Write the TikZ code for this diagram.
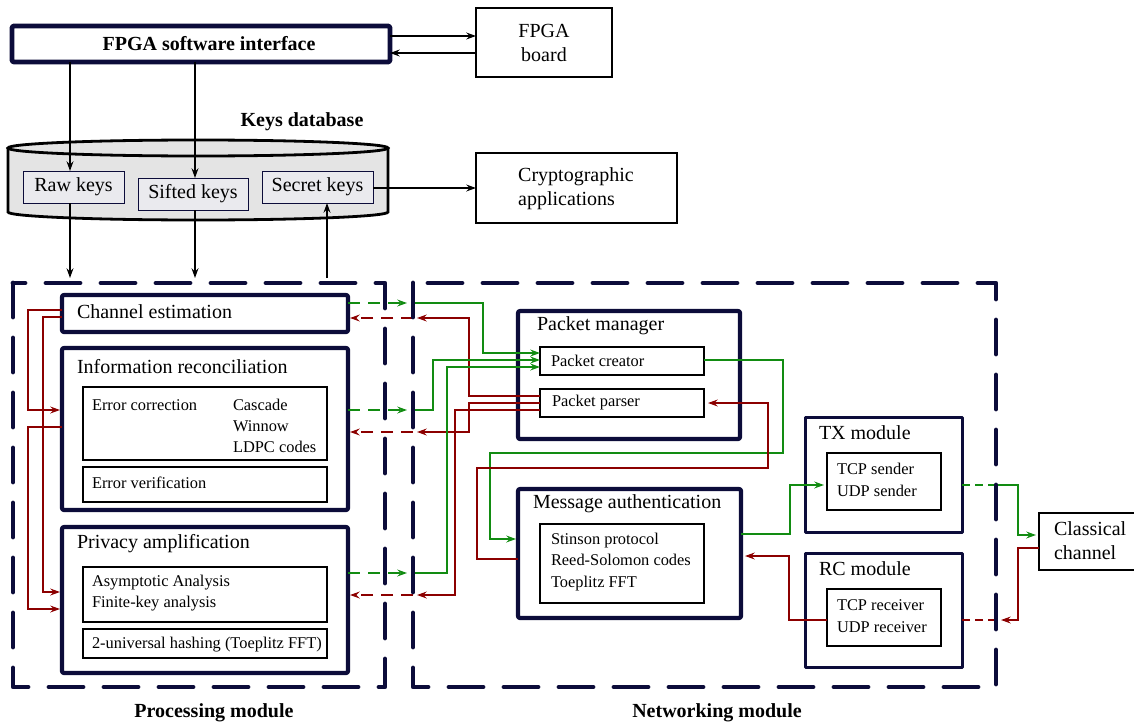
\documentclass[tikz,border=0pt]{standalone}
\usepackage{fontspec}
\setmainfont{Liberation Serif}
\usetikzlibrary{arrows.meta,calc}

\definecolor{navy}{RGB}{12,12,58}
\definecolor{wgreen}{RGB}{18,140,18}
\definecolor{wred}{RGB}{140,0,0}
\definecolor{dbgray}{RGB}{228,228,228}
\definecolor{keyfill}{RGB}{234,234,238}

\newcommand{\fsmain}{\fontsize{10}{12}\selectfont}
\newcommand{\fssmall}{\fontsize{8.2}{10.9}\selectfont}

% rectangle node given by its corners (in pixel units): style, name, x1, y1, x2, y2, text
\newcommand{\rectnode}[7]{%
  \node[#1, minimum width={((#5)-(#3))*0.5pt}, minimum height={((#6)-(#4))*0.5pt}]
    (#2) at ({((#3)+(#5))/2},{((#4)+(#6))/2}) {#7};}

\tikzset{
  >={Stealth[length=4.8pt,width=3.4pt]},
  base/.style={inner sep=0pt, outer sep=0pt},
  holder/.style={base},
  thickbox/.style={base, draw=navy, line width=2.1pt, rounded corners=1pt, line join=round},
  midbox/.style={base, draw=navy, line width=1.5pt, line join=round},
  thinbox/.style={base, draw=black, line width=0.7pt},
  blackbox/.style={base, draw=black, line width=1.2pt, align=left, font=\fsmain},
  keybox/.style={base, draw=navy, line width=0.5pt, fill=keyfill, font=\fsmain},
  modbox/.style={draw=navy, line width=2.4pt, dash pattern=on 17pt off 10.5pt,
                 line cap=round, line join=round},
  txt/.style={base, font=\fsmain, align=left},
  txts/.style={base, font=\fssmall, align=left},
  txtb/.style={base, font=\fsmain\bfseries},
  blk/.style={draw=black, line width=1pt, ->},
  gw/.style={draw=wgreen, line width=1.4pt},
  rw/.style={draw=wred, line width=1.4pt},
  gdash/.style={gw, dash pattern=on 6pt off 4pt},
  rdash/.style={rw, dash pattern=on 6pt off 4pt},
  gdot/.style={gw, dash pattern=on 4pt off 2.5pt},
  rdot/.style={rw, dash pattern=on 4pt off 2.5pt},
}

\begin{document}
\begin{tikzpicture}[x=0.5pt, y=-0.5pt]
\useasboundingbox (0,0) rectangle (1134,722);

% ---------- top: FPGA interface ----------
\rectnode{thickbox, line width=2.4pt}{fsi}{12}{26}{390}{62}{}
\node[txtb] (fsitxt) at (209,44) {FPGA software interface};
\rectnode{blackbox, align=center}{fb}{476}{8}{612}{77}{FPGA\\board}

% ---------- keys database ----------
\node[txtb] (kdb) at (302,122) {Keys database};
\fill[dbgray] (8,148) -- (8,212) arc[start angle=180, end angle=360, x radius=95pt, y radius=4pt]
  -- (388,148) arc[start angle=0, end angle=180, x radius=95pt, y radius=4pt] -- cycle;
\draw[line width=1.4pt] (8,148) -- (8,212) arc[start angle=180, end angle=360, x radius=95pt, y radius=4pt]
  -- (388,148);
\draw[line width=1.4pt] (198,148) ellipse[x radius=95pt, y radius=4pt];

\rectnode{keybox}{raw}{23}{171}{124}{203}{Raw keys}
\rectnode{keybox}{sift}{138}{178}{248}{210}{Sifted keys}
\rectnode{keybox}{sec}{262}{171}{373}{203}{Secret keys}

\rectnode{blackbox}{cr}{476}{153}{677}{223}{}
\node[txt] (crtxt) at (576,189) {Cryptographic\\applications};

% ---------- module frames (outlines drawn last) ----------
\rectnode{holder}{proc}{13}{283}{385}{687}{}
\rectnode{holder}{net}{413}{283}{996}{687}{}
\node[txtb] (proclbl) at (214,713) {Processing module};
\node[txtb] (netlbl) at (717,713) {Networking module};

% ---------- processing module ----------
\rectnode{thickbox}{ce}{62}{295}{348}{332}{}
\node[txt, anchor=west] (cetxt) at (77,312) {Channel estimation};

\rectnode{thickbox}{ir}{62}{348}{348}{510}{}
\node[txt, anchor=west] (irtxt) at (77,367) {Information reconciliation};
\rectnode{thinbox}{ec}{83}{387}{327}{460}{}
\node[txts, anchor=west] (ectxt) at (92,405) {Error correction};
\node[txts, anchor=west, font=\fontsize{8.2}{10.6}\selectfont] (ecm) at (233,426) {Cascade\\Winnow\\LDPC codes};
\rectnode{thinbox}{ev}{83}{467}{327}{502}{}
\node[txts, anchor=west] (evtxt) at (92,483) {Error verification};

\rectnode{thickbox}{pa}{62}{527}{348}{673}{}
\node[txt, anchor=west] (patxt) at (77,544) {Privacy amplification};
\rectnode{thinbox}{pa1}{83}{567}{327}{622}{}
\node[txts, anchor=west] (pa1txt) at (92,593) {Asymptotic Analysis\\Finite-key analysis};
\rectnode{thinbox}{pa2}{83}{629}{327}{658}{}
\node[txts, anchor=west] (pa2txt) at (92,645) {2-universal hashing (Toeplitz FFT)};

% ---------- networking module ----------
\rectnode{thickbox}{pm}{518}{311}{740}{439}{}
\node[txt, anchor=west] (pmtxt) at (537,326) {Packet manager};
\rectnode{thinbox}{pc}{540}{347}{704}{375}{}
\node[txts, anchor=west] (pctxt) at (551,361) {Packet creator};
\rectnode{thinbox}{pp}{540}{389}{704}{417}{}
\node[txts, anchor=west] (pptxt) at (552,403) {Packet parser};

\rectnode{thickbox}{ma}{518}{489}{741}{618}{}
\node[txt, anchor=west] (matxt) at (533,504) {Message authentication};
\rectnode{thinbox}{mai}{540}{524}{704}{603}{}
\node[txts, anchor=west, font=\fontsize{8.2}{10.75}\selectfont] (maitxt) at (551,562) {Stinson protocol\\Reed-Solomon codes\\Toeplitz FFT};

\rectnode{midbox}{tx}{805}{417}{962}{532}{}
\node[txt, anchor=west] (txtxt) at (819,433) {TX module};
\rectnode{thinbox}{txi}{827}{453}{941}{510}{}
\node[txts, anchor=west] (txitxt) at (837,480) {TCP sender\\UDP sender};

\rectnode{midbox}{rc}{805}{553}{962}{667}{}
\node[txt, anchor=west] (rctxt) at (819,569) {RC module};
\rectnode{thinbox}{rci}{827}{589}{941}{646}{}
\node[txts, anchor=west] (rcitxt) at (837,616) {TCP receiver\\UDP receiver};

\rectnode{blackbox}{cc}{1039}{513}{1145}{570}{}
\node[txt, anchor=west] (cctxt) at (1054,541) {Classical\\channel};

% ---------- black connectors ----------
\draw[blk] (fsi.east |- 0,36) -- (fb.west |- 0,36);
\draw[blk] (fb.west |- 0,53) -- (fsi.east |- 0,53);
\draw[blk] (70,0 |- fsi.south) -- (70,0 |- raw.north);
\draw[blk] (195,0 |- fsi.south) -- (195,0 |- sift.north);
\draw[blk, shorten >=2.5pt] (70,0 |- raw.south) -- (70,0 |- proc.north);
\draw[blk, shorten >=2.5pt] (195,0 |- sift.south) -- (195,0 |- proc.north);
\draw[blk, shorten <=2.5pt] (327,0 |- proc.north) -- (327,0 |- sec.south);
\draw[blk] (sec.east |- 0,188) -- (cr.west |- 0,188);

% ---------- feedback inside the processing module ----------
\draw[rw, ->, shorten >=1pt] (ce.west |- 0,310) -| (28,410) -- (ir.west |- 0,410);
\draw[rw, ->, shorten >=1pt] (ce.west |- 0,317) -| (43,592) -- (pa.west |- 0,592);
\draw[rw, ->, shorten >=1pt] (ir.west |- 0,427) -| (28,609) -- (pa.west |- 0,609);

% ---------- processing <-> packet manager ----------
\draw[gdash, ->, shorten >=3pt] (ce.east |- 0,303) -- (net.west |- 0,303);
\draw[gw, ->] (net.west |- 0,303) -| (483,353) -- (pc.west |- 0,353);
\draw[rw, ->, shorten >=2pt] (pp.west |- 0,396) -| (469,318) -- (net.west |- 0,318);
\draw[rdash, ->, shorten >=1pt] (net.west |- 0,318) -- (ce.east |- 0,318);

\draw[gdash, ->, shorten >=3pt] (ir.east |- 0,410) -- (net.west |- 0,410);
\draw[gw, ->] (net.west |- 0,410) -| (433,360) -- (pc.west |- 0,360);
\draw[rw, ->, shorten >=2pt] (pp.west |- 0,403) -| (469,432) -- (net.west |- 0,432);
\draw[rdash, ->, shorten >=1pt] (net.west |- 0,432) -- (ir.east |- 0,432);

\draw[gdash, ->, shorten >=3pt] (pa.east |- 0,573) -- (net.west |- 0,573);
\draw[gw, ->] (net.west |- 0,573) -| (447,367) -- (pc.west |- 0,367);
\draw[rw, ->, shorten >=2pt] (pp.west |- 0,410) -| (455,595) -- (net.west |- 0,595);
\draw[rdash, ->, shorten >=1pt] (net.west |- 0,595) -- (pa.east |- 0,595);

% ---------- packet manager <-> message authentication ----------
\draw[gw, ->, shorten >=1pt] (pc.east |- 0,360) -| (783,453) -| (490,539) -- (ma.west |- 0,539);
\draw[rw, ->, shorten >=2pt] (ma.west |- 0,559) -| (477,468) -| (768,403) -- (pp.east |- 0,403);

% ---------- message authentication <-> TX / RC ----------
\draw[gw, ->, shorten >=1.5pt] (ma.east |- 0,534) -| (790,485) -- (txi.west |- 0,485);
\draw[rw, ->, shorten >=2pt] (rci.west |- 0,620) -| (789,556) -- (ma.east |- 0,556);

% ---------- TX / RC <-> classical channel ----------
\draw[gdot] (tx.east |- 0,485) -- (net.east |- 0,485);
\draw[gw, ->, shorten >=1.5pt] (net.east |- 0,485) -| (1018,535) -- (cc.west |- 0,535);
\draw[rw, ->, shorten >=2.5pt] (cc.west |- 0,548) -| (1018,620) -- (net.east |- 0,620);
\draw[rdot] (net.east |- 0,620) -- (rc.east |- 0,620);

% ---------- module frames ----------
\draw[modbox] (proc.north west) rectangle (proc.south east);
\draw[modbox] (net.north west) rectangle (net.south east);
\end{tikzpicture}
\end{document}
